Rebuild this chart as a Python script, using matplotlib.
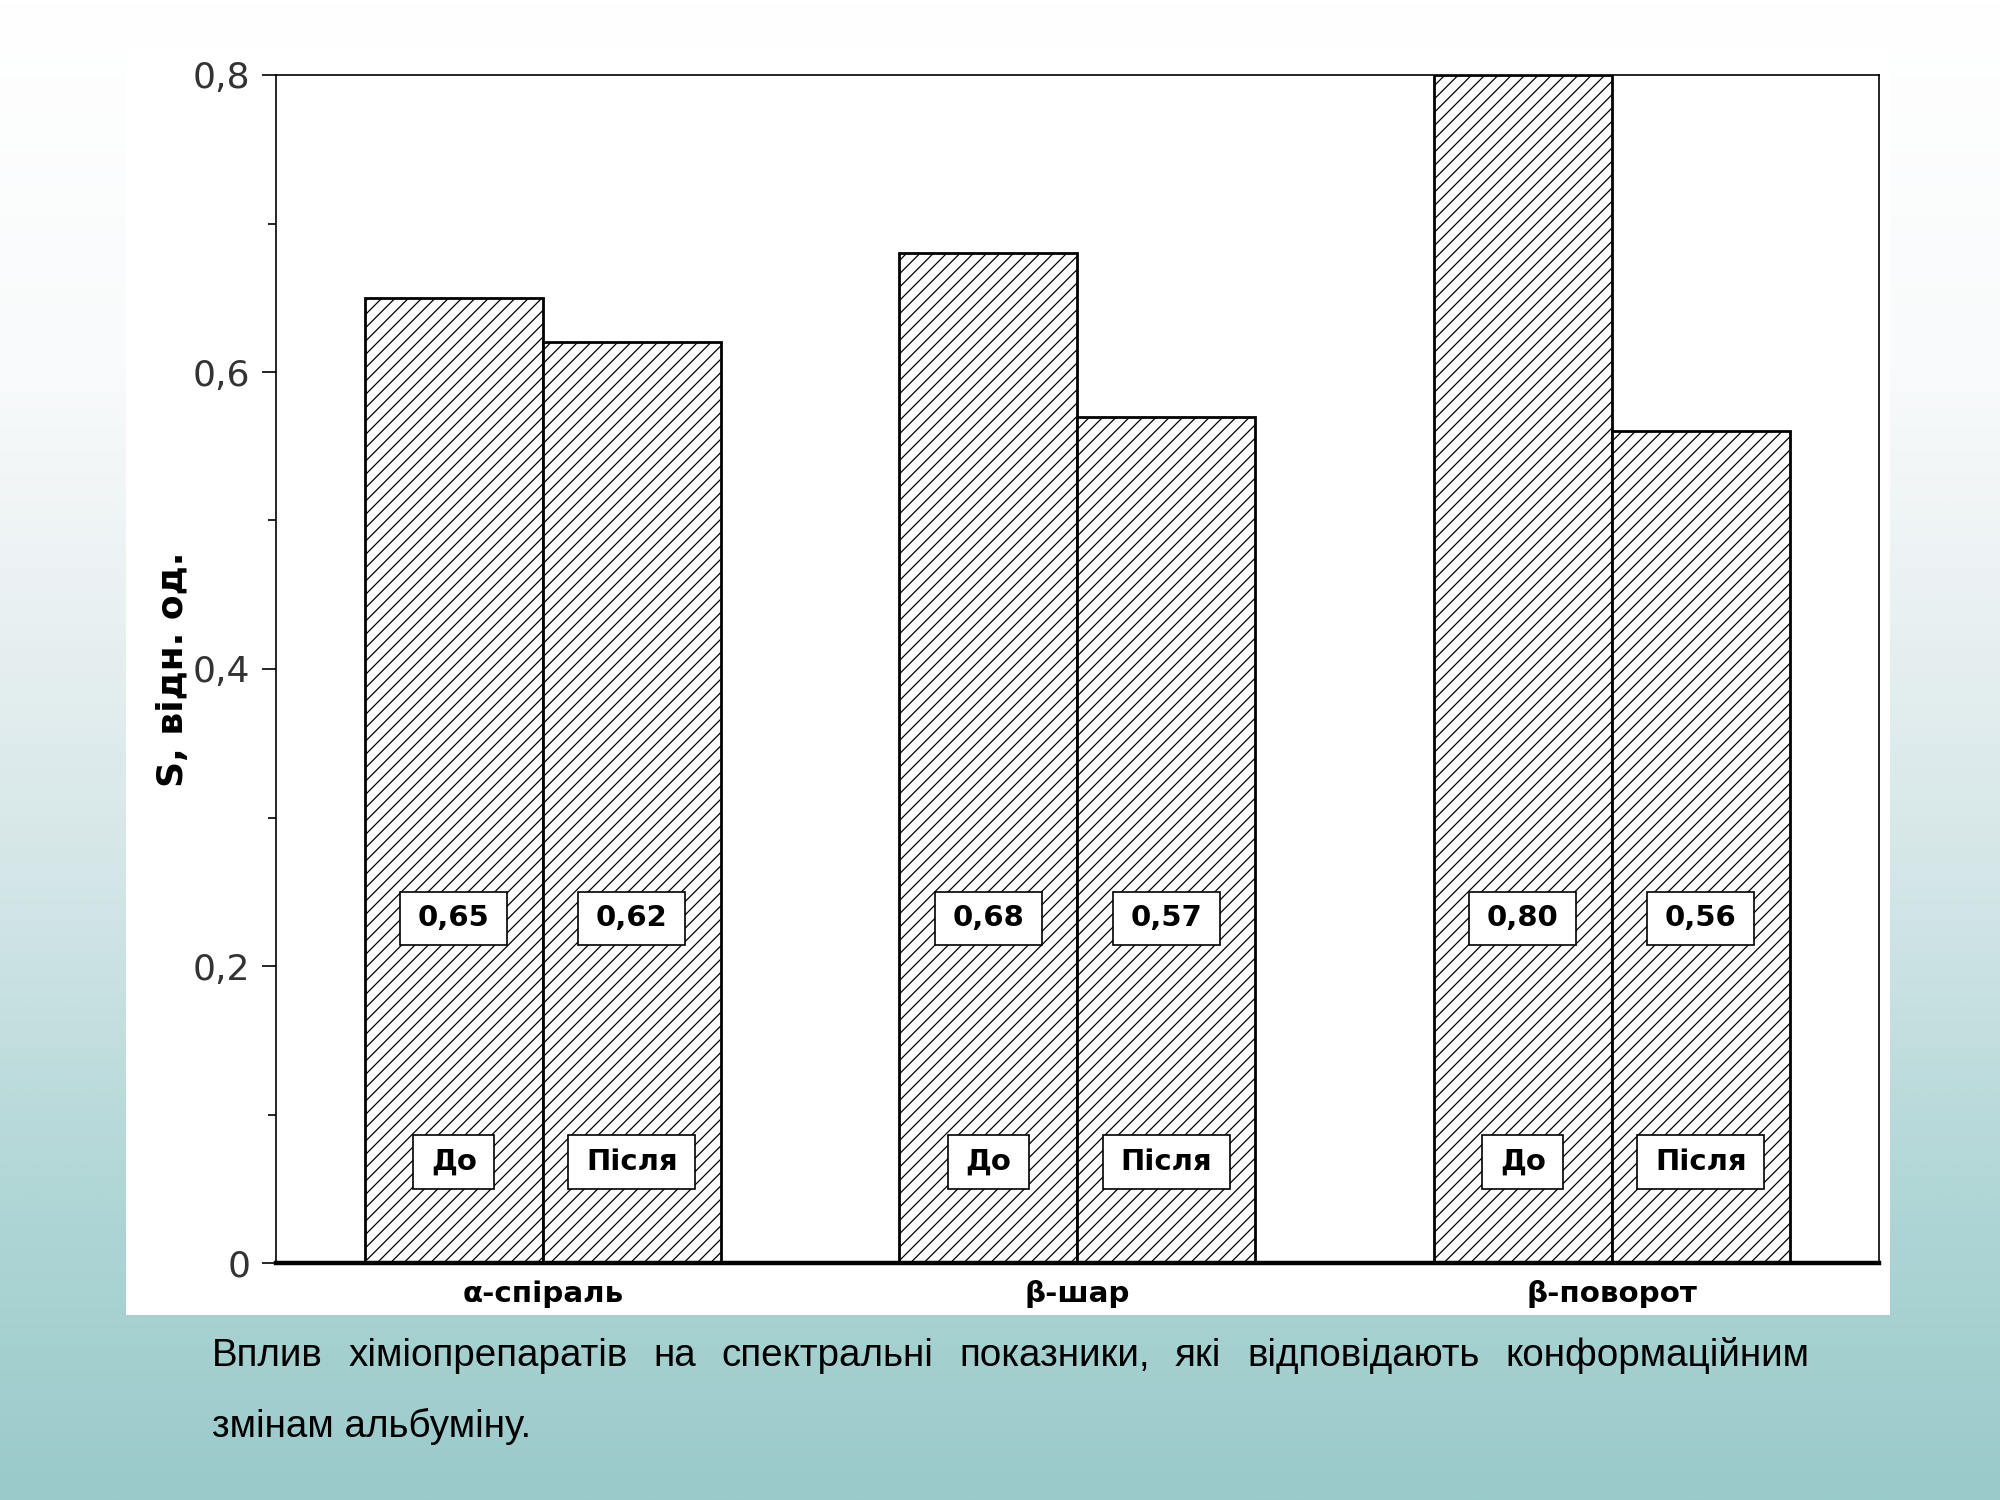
import numpy as np
import matplotlib
matplotlib.use('Agg')
import matplotlib.pyplot as plt
from matplotlib.path import Path
from matplotlib.colors import LinearSegmentedColormap
from matplotlib.patches import Rectangle
from matplotlib.ticker import MultipleLocator

# ---- data ----
categories = ['α-спіраль', 'β-шар', 'β-поворот']
before = [0.65, 0.68, 0.80]
after = [0.62, 0.57, 0.56]
value_labels_before = ['0,65', '0,68', '0,80']
value_labels_after = ['0,62', '0,57', '0,56']
series_names = ['До', 'Після']
y_ticks = [0, 0.2, 0.4, 0.6, 0.8]
y_tick_labels = ['0', '0,2', '0,4', '0,6', '0,8']
y_label = 'S, відн. од.'
caption_line1 = 'Вплив хіміопрепаратів на спектральні показники, які відповідають конформаційним'
caption_line2 = 'змінам альбуміну.'

plt.rcParams['font.family'] = ['DejaVu Sans']
plt.rcParams['hatch.linewidth'] = 0.45
plt.rcParams['hatch.color'] = 'black'

W, H = 2000, 1500
fig = plt.figure(figsize=(10, 7.5), dpi=200)

# background gradient
bg = fig.add_axes([0, 0, 1, 1], zorder=-10)
grad = np.linspace(0, 1, 512).reshape(-1, 1)
cmap = LinearSegmentedColormap.from_list(
    'bg', [(0, '#ffffff'), (0.25, '#f8fafb'), (0.4, '#eaf1f2'),
           (0.6, '#d2e5e6'), (0.8, '#b0d6d6'), (1, '#9acaca')])
bg.imshow(grad, aspect='auto', cmap=cmap, extent=[0, 1, 0, 1], origin='upper')
bg.set_xlim(0, 1)
bg.set_ylim(0, 1)
bg.axis('off')
# white chart panel
bg.add_patch(Rectangle((126 / W, 1 - 1315 / H), (1890 - 126) / W, (1315 - 50) / H,
                       facecolor='white', edgecolor='none', transform=bg.transAxes))

# chart axes
ax = fig.add_axes([275.5 / W, 1 - 1263 / H, (1879 - 275.5) / W, (1263 - 75) / H])
ax.set_facecolor('white')

x = np.arange(len(categories))
w = 0.333
b1 = ax.bar(x - w / 2, before, w, facecolor='white', edgecolor='black',
            hatch='/////', linewidth=1.0, zorder=2)
b2 = ax.bar(x + w / 2, after, w, facecolor='white', edgecolor='black',
            hatch='/////', linewidth=1.0, zorder=2)

ax.set_xlim(-0.5, 2.5)
ax.set_ylim(0, 0.8)
ax.set_yticks(y_ticks, y_tick_labels)
ax.yaxis.set_minor_locator(MultipleLocator(0.1))
ax.set_xticks(x, categories, fontweight='bold', fontsize=10.6)
ax.tick_params(axis='x', length=0, pad=6)
ax.tick_params(axis='y', which='major', length=5, width=0.6, labelsize=13,
               labelcolor='#333333', pad=4)
ax.tick_params(axis='y', which='minor', length=2.9, width=0.6)
for s in ['left', 'top', 'right']:
    ax.spines[s].set_linewidth(0.6)
ax.spines['bottom'].set_linewidth(1.6)
ax.spines['bottom'].set_zorder(3)

ax.set_ylabel(y_label, fontsize=13, fontweight='bold')
ax.yaxis.set_label_coords((190 - 275.5) / (1879 - 275.5), 0.5)


def rect_box(x0, y0, width, height, mutation_size):
    padx = 0.6 * mutation_size
    h = 1.85 * mutation_size
    cy = y0 + height / 2
    xa, xb = x0 - padx, x0 + width + padx
    return Path([(xa, cy - h / 2), (xb, cy - h / 2), (xb, cy + h / 2),
                 (xa, cy + h / 2), (xa, cy - h / 2)], closed=True)


box_props = dict(boxstyle=rect_box, facecolor='white', edgecolor='black', linewidth=0.6)
value_y = 0.232
name_y = 0.068
for i in range(len(categories)):
    for xc, vl, nm in [(x[i] - w / 2, value_labels_before[i], series_names[0]),
                       (x[i] + w / 2, value_labels_after[i], series_names[1])]:
        ax.text(xc, value_y, vl, ha='center', va='center', fontsize=10.5,
                fontweight='bold', bbox=box_props, zorder=5)
        ax.text(xc, name_y, nm, ha='center', va='center', fontsize=10.5,
                fontweight='bold', bbox=box_props, zorder=5)

# caption (justified first line)
cap_font = dict(fontsize=13.9, family=['Liberation Sans', 'DejaVu Sans'], color='black')
renderer = fig.canvas.get_renderer()
words = caption_line1.split()
tx = [fig.text(0, 1 - 1356 / H, wd, va='center', ha='left', **cap_font) for wd in words]
widths = [t.get_window_extent(renderer).width for t in tx]
left_px, right_px = 212, 1809
gap = (right_px - left_px - sum(widths)) / (len(words) - 1)
pos = left_px
for t, wd in zip(tx, widths):
    t.set_x(pos / W)
    pos += wd + gap
fig.text(left_px / W, 1 - 1426 / H, caption_line2, va='center', ha='left', **cap_font)

fig.savefig('out.png', dpi=200)
